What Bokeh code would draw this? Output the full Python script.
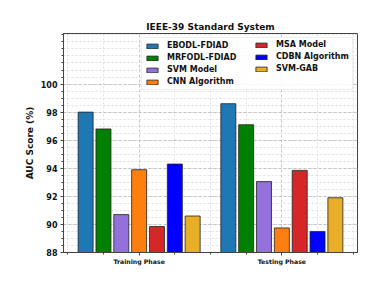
from bokeh.plotting import figure
from bokeh.models import Range1d, FixedTicker, Legend, LegendItem, ColumnDataSource
from bokeh.embed import file_html
from bokeh.resources import INLINE

phases = ["Training Phase", "Testing Phase"]
models = ["EBODL-FDIAD", "MRFODL-FDIAD", "SVM Model", "CNN Algorithm",
          "MSA Model", "CDBN Algorithm", "SVM-GAB"]
training = [98.0, 96.8, 90.7, 93.9, 89.85, 94.3, 90.6]
testing = [98.6, 97.1, 93.05, 89.75, 93.85, 89.5, 91.9]
colors = ["#1f77b4", "#008000", "#9370db", "#ff7f0e", "#d62728", "#0000ff", "#e8ae28"]
y_ticks = [88, 90, 92, 94, 96, 98, 100]

pitch = 0.125
bw = 0.105

p = figure(width=384, height=286, output_backend="svg", toolbar_location=None,
           x_range=Range1d(-0.53, 1.53), y_range=Range1d(88, 103.6),
           min_border_left=63, min_border_right=27, min_border_top=33, min_border_bottom=34,
           title="IEEE-39 Standard System")
p.title.align = "center"
p.title.text_font = "DejaVu Sans"
p.title.text_font_size = "9px"
p.title.text_font_style = "bold"
p.title.text_color = "#111111"
p.title.offset = 0
p.title.standoff = 4

items = []
for i, m in enumerate(models):
    xs = [j + (i - 3) * pitch for j in range(len(phases))]
    tops = [training[i], testing[i]]
    src = ColumnDataSource(dict(x=xs, top=tops))
    r = p.vbar(x="x", top="top", bottom=88, width=bw, source=src,
               fill_color=colors[i], line_color="#222222", line_width=0.8)
    items.append(LegendItem(label=m, renderers=[r]))


def style(lg, label_width):
    lg.label_text_font = "DejaVu Sans"
    lg.label_text_font_style = "bold"
    lg.label_text_font_size = "8px"
    lg.label_text_color = "#111111"
    lg.glyph_width = 14
    lg.glyph_height = 6
    lg.label_height = 8
    lg.label_width = label_width
    lg.spacing = 3
    lg.padding = 3
    lg.margin = 4
    lg.label_standoff = 8


leg1 = Legend(items=items[:4], location="top_right")
style(leg1, 182)
leg1.border_line_color = "#dddddd"
leg1.background_fill_alpha = 0.85
leg2 = Legend(items=items[4:], location="top_right")
style(leg2, 74)
leg2.border_line_alpha = 0
leg2.background_fill_alpha = 0
p.add_layout(leg1)
p.add_layout(leg2)

p.yaxis.ticker = FixedTicker(ticks=y_ticks, minor_ticks=[88 + 0.5 * k for k in range(32)])
p.xaxis.ticker = FixedTicker(ticks=[0, 1], minor_ticks=[-0.5, -0.25, 0.25, 0.5, 0.75, 1.25, 1.5])
p.xaxis.major_label_overrides = {0: phases[0], 1: phases[1]}

for ax in (p.xaxis, p.yaxis):
    ax.major_label_text_font = "DejaVu Sans"
    ax.major_label_text_font_style = "bold"
    ax.major_label_text_color = "#111111"
    ax.axis_line_color = "#444444"
    ax.major_tick_line_color = "#444444"
    ax.minor_tick_line_color = "#444444"
    ax.major_tick_out = 3
    ax.major_tick_in = 0
    ax.minor_tick_out = 2
    ax.minor_tick_in = 0
p.yaxis.major_label_text_font_size = "8px"
p.xaxis.major_label_text_font_size = "6.2px"
p.xaxis.major_label_standoff = 2
p.yaxis.major_label_standoff = 3
p.yaxis.axis_label = "AUC Score (%)"
p.yaxis.axis_label_text_font = "DejaVu Sans"
p.yaxis.axis_label_text_font_style = "bold"
p.yaxis.axis_label_text_font_size = "9px"
p.yaxis.axis_label_text_color = "#111111"
p.yaxis.axis_label_standoff = 3

p.outline_line_color = "#444444"
p.outline_line_alpha = 1

for g in (p.xgrid, p.ygrid):
    g.grid_line_color = "#b0b0b0"
    g.grid_line_dash = "3 2"
    g.grid_line_width = 0.7
    g.minor_grid_line_color = "#cccccc"
    g.minor_grid_line_dash = "2 2"
    g.minor_grid_line_width = 0.6

open("out.html", "w").write(file_html(p, INLINE))
